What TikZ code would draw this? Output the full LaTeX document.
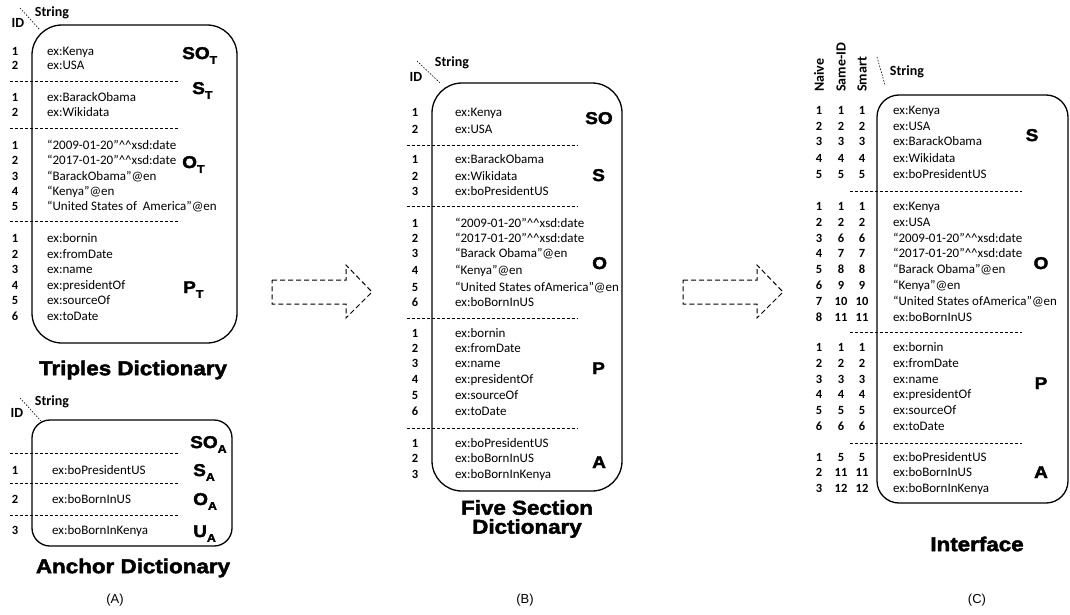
\documentclass[tikz,border=0pt]{standalone}
\usepackage{fontspec}
\setmainfont{Carlito}
\newfontfamily\heavy{Liberation Sans Bold}[FakeBold=2.2,FakeStretch=1.12]
\newfontfamily\capfont{Liberation Sans}
\newcommand\lowsub[1]{\raisebox{-0.28em}{\fontsize{11}{12}\selectfont #1}}
\newcommand\xsdd{\textasciicircum\textasciicircum{}xsd:date}
\begin{document}
\begin{tikzpicture}[x=1pt,y=-1pt,
  box/.style={draw, line width=1.3pt, inner sep=0pt},
  sepline/.style={draw, dash pattern=on 3pt off 2pt, line width=0.8pt},
  diag/.style={draw, dash pattern=on 1.5pt off 1.5pt, line width=0.6pt},
  num/.style={font=\fontsize{12.5}{14}\selectfont\bfseries, inner sep=0pt, text height=10pt, text depth=2pt},
  str/.style={font=\fontsize{13}{15}\selectfont, inner sep=0pt, anchor=west, text height=10pt, text depth=2pt},
  hdr/.style={font=\fontsize{14}{16}\selectfont\bfseries, inner sep=0pt},
  sec/.style={font=\heavy\fontsize{17}{19}\selectfont, inner sep=0pt},
  title/.style={font=\heavy\fontsize{20}{19}\selectfont, inner sep=0pt, align=center},
  capt/.style={font=\capfont\fontsize{13}{15}\selectfont, inner sep=0pt},
  bigarrow/.style={draw, dash pattern=on 5pt off 3pt, line width=1pt}
]
\useasboundingbox (0,0) rectangle (1070,615);

% ================= Panel A : Triples Dictionary =================
\node[box, rounded corners=30pt, minimum width=205pt, minimum height=318pt] (boxT) at (134.5,184) {};
\node[hdr] (tID) at (18,23) {ID};
\node[hdr] (tStr) at (52,13) {String};
\coordinate (td1) at (20,8); \coordinate (td2) at (40,30);
\draw[diag] (td1) -- (td2);
\foreach \y/\nn/\txt [count=\idx] in {
  52/1/ex:Kenya, 65.5/2/ex:USA,
  98/1/ex:BarackObama, 113/2/ex:Wikidata,
  145/1/{“2009-01-20”\xsdd}, 160.7/2/{“2017-01-20”\xsdd}, 176.7/3/{“BarackObama”@en},
  191.7/4/{“Kenya”@en}, 206.7/5/{“United States of~ America”@en},
  238/1/ex:bornin, 254/2/ex:fromDate, 269/3/ex:name, 285/4/ex:presidentOf,
  300.7/5/ex:sourceOf, 316.7/6/ex:toDate}{
  \node[num] (tn\idx) at (15,\y) {\nn};
  \node[str] (ts\idx) at (47,\y) {\txt};
}
\foreach \y [count=\idx] in {81.7,128,221.7}{
  \draw[sepline] (10,\y) -- (180,\y);
}
\node[sec, anchor=base west] (tSO) at (182,59) {SO\lowsub{T}};
\node[sec, anchor=base west] (tS) at (192,94) {S\lowsub{T}};
\node[sec, anchor=base west] (tO) at (182,168) {O\lowsub{T}};
\node[sec, anchor=base west] (tP) at (183,293) {P\lowsub{T}};
\node[title] (tTitle) at (133,370) {Triples Dictionary};

% ================= Panel A : Anchor Dictionary =================
\node[box, rounded corners=18pt, minimum width=200pt, minimum height=126pt] (boxA) at (132,483) {};
\node[hdr] (aID) at (17,413) {ID};
\node[hdr] (aStr) at (52,402) {String};
\coordinate (ad1) at (20,398); \coordinate (ad2) at (41,421);
\draw[diag] (ad1) -- (ad2);
\foreach \y/\nn/\txt [count=\idx] in {
  470/1/ex:boPresidentUS, 499/2/ex:boBornInUS, 530/3/ex:boBornInKenya}{
  \node[num] (an\idx) at (15,\y) {\nn};
  \node[str] (as\idx) at (52,\y) {\txt};
}
\foreach \y in {453,483,515}{
  \draw[sepline] (10,\y) -- (180,\y);
}
\node[sec, anchor=base west] (aSO) at (190,448) {SO\lowsub{A}};
\node[sec, anchor=base west] (aS) at (193,476) {S\lowsub{A}};
\node[sec, anchor=base west] (aO) at (193,505) {O\lowsub{A}};
\node[sec, anchor=base west] (aU) at (193,537) {U\lowsub{A}};
\node[title] (aTitle) at (133,568) {Anchor Dictionary};
\node[capt] (capA) at (115,600) {(A)};

% ================= Arrows =================
\draw[bigarrow] (272,280) -- (346,280) -- (346,265) -- (372,292) -- (346,318) -- (346,304) -- (272,304) -- cycle;
\draw[bigarrow] (683,280) -- (757,280) -- (757,265) -- (783,292) -- (757,318) -- (757,304) -- (683,304) -- cycle;

% ================= Panel B : Five Section Dictionary =================
\node[box, rounded corners=30pt, minimum width=190pt, minimum height=408pt] (boxB) at (527,287) {};
\node[hdr] (bID) at (416,77) {ID};
\node[hdr] (bStr) at (452,63) {String};
\coordinate (bd1) at (417,61); \coordinate (bd2) at (440,83);
\draw[diag] (bd1) -- (bd2);
\foreach \y/\nn/\txt [count=\idx] in {
  113/1/ex:Kenya, 129/2/ex:USA,
  159/1/ex:BarackObama, 176/2/ex:Wikidata, 191/3/ex:boPresidentUS,
  223/1/{“2009-01-20”\xsdd}, 238/2/{“2017-01-20”\xsdd}, 253/3/{“Barack Obama”@en},
  270/4/{“Kenya”@en}, 287/5/{“United States ofAmerica”@en}, 302/6/ex:boBornInUS,
  333/1/ex:bornin, 348/2/ex:fromDate, 363/3/ex:name, 379/4/ex:presidentOf,
  395/5/ex:sourceOf, 411/6/ex:toDate,
  443/1/ex:boPresidentUS, 458/2/ex:boBornInUS, 474/3/ex:boBornInKenya}{
  \node[num] (bn\idx) at (415,\y) {\nn};
  \node[str] (bs\idx) at (455,\y) {\txt};
}
\foreach \y in {145,206,318,428}{
  \draw[sepline] (407,\y) -- (578,\y);
}
\node[sec, anchor=base west] (bSO) at (585,124) {SO};
\node[sec, anchor=base west] (bS) at (592,181) {S};
\node[sec, anchor=base west] (bO) at (592,269) {O};
\node[sec, anchor=base west] (bP) at (592,374) {P};
\node[sec, anchor=base west] (bA) at (592,468) {A};
\node[title] (bTitle) at (527,519) {Five Section\\Dictionary};
\node[capt] (capB) at (525,600) {(B)};

% ================= Panel C : Interface =================
\node[box, rounded corners=22pt, minimum width=191pt, minimum height=408pt] (boxC) at (972.5,299) {};
\node[hdr, rotate=90, anchor=west] (cNaive) at (819,92) {Naive};
\node[hdr, rotate=90, anchor=west] (cSame) at (841,92) {Same-ID};
\node[hdr, rotate=90, anchor=west] (cSmart) at (862,92) {Smart};
\node[hdr] (cStr) at (907,72) {String};
\coordinate (cd1) at (877,57); \coordinate (cd2) at (885,85);
\draw[diag] (cd1) -- (cd2);
\foreach \y/\na/\nb/\nc/\txt [count=\idx] in {
  111/1/1/1/ex:Kenya, 127/2/2/2/ex:USA, 142/3/3/3/ex:BarackObama,
  158/4/4/4/ex:Wikidata, 174/5/5/5/ex:boPresidentUS,
  206/1/1/1/ex:Kenya, 222/2/2/2/ex:USA, 238/3/6/6/{“2009-01-20”\xsdd},
  253/4/7/7/{“2017-01-20”\xsdd}, 269/5/8/8/{“Barack Obama”@en}, 285/6/9/9/{“Kenya”@en},
  301/7/10/10/{“United States ofAmerica”@en}, 317/8/11/11/ex:boBornInUS,
  347/1/1/1/ex:bornin, 363/2/2/2/ex:fromDate, 379/3/3/3/ex:name,
  394/4/4/4/ex:presidentOf, 410/5/5/5/ex:sourceOf, 426/6/6/6/ex:toDate,
  457/1/5/5/ex:boPresidentUS, 472/2/11/11/ex:boBornInUS, 488/3/12/12/ex:boBornInKenya}{
  \node[num] (cna\idx) at (819,\y) {\na};
  \node[num] (cnb\idx) at (841,\y) {\nb};
  \node[num] (cnc\idx) at (862,\y) {\nc};
  \node[str] (cs\idx) at (893,\y) {\txt};
}
\foreach \y in {191,332,443}{
  \draw[sepline] (850,\y) -- (1022,\y);
}
\node[sec, anchor=base] (cS) at (1032,141) {S};
\node[sec, anchor=base] (cO) at (1041,269) {O};
\node[sec, anchor=base] (cP) at (1041,389) {P};
\node[sec, anchor=base] (cA) at (1041,478) {A};
\node[title] (cTitle) at (977,544) {Interface};
\node[capt] (capC) at (977,600) {(C)};
\end{tikzpicture}
\end{document}
